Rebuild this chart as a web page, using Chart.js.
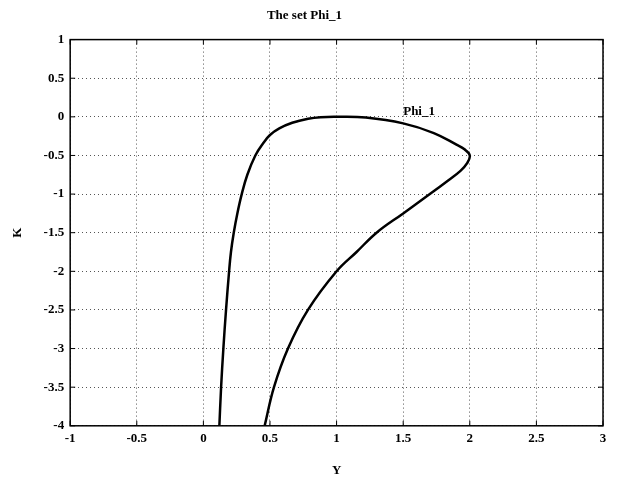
<!DOCTYPE html>
<html>
<head>
  <title>The set Phi_1</title>
  <script src="https://cdn.jsdelivr.net/npm/chart.js"></script>
  <style>
    body { margin: 0; background: #fff; }
    canvas { display: block; }
  </style>
</head>
<body>
  <canvas id="phiChart" width="627" height="485"></canvas>

  <script>
    // boundary of Phi_1 (Y, K)
    const yVals = [0.12, 0.133, 0.15, 0.17, 0.193, 0.207, 0.228, 0.255, 0.288, 0.33, 0.39, 0.45, 0.5, 0.57, 0.667, 0.786, 0.88, 1.0,
                   1.22, 1.5, 1.73, 1.9, 1.96, 2.0, 1.98, 1.93, 1.84, 1.70, 1.5, 1.30, 1.15, 1.0, 0.785, 0.635, 0.53, 0.46];
    const kVals = [-4, -3.5, -3, -2.5, -2, -1.75, -1.5, -1.25, -1, -0.75, -0.5, -0.34, -0.235, -0.15, -0.077, -0.025, -0.005, 0,
                   -0.01, -0.085, -0.21, -0.36, -0.42, -0.5, -0.6, -0.7, -0.82, -1.0, -1.25, -1.5, -1.75, -2, -2.5, -3, -3.5, -4];
    const xTicks = [-1, -0.5, 0, 0.5, 1, 1.5, 2, 2.5, 3];
    const yTicks = [1, 0.5, 0, -0.5, -1, -1.5, -2, -2.5, -3, -3.5, -4];
    const curveLabel = { text: "Phi_1", y: 1.5, k: 0.03 };

    const points = yVals.map((v, i) => ({ x: v, y: kVals[i] }));
    const font = { family: "Liberation Serif", weight: "bold", size: 13 };

    // box around the plot plus inward tick marks, and the curve label
    const frame = {
      id: "frame",
      afterDraw(chart) {
        const c = chart.ctx, a = chart.chartArea;
        const sx = chart.scales.x, sy = chart.scales.y;
        c.save();
        c.strokeStyle = "#000";
        c.lineWidth = 1.5;
        c.strokeRect(a.left, a.top, a.right - a.left, a.bottom - a.top);
        c.lineWidth = 1;
        c.beginPath();
        xTicks.forEach(t => {
          const p = sx.getPixelForValue(t);
          c.moveTo(p, a.bottom); c.lineTo(p, a.bottom - 5);
          c.moveTo(p, a.top); c.lineTo(p, a.top + 5);
        });
        yTicks.forEach(t => {
          const p = sy.getPixelForValue(t);
          c.moveTo(a.left, p); c.lineTo(a.left + 5, p);
          c.moveTo(a.right, p); c.lineTo(a.right - 5, p);
        });
        c.stroke();
        c.fillStyle = "#000";
        c.font = "bold 13px 'Liberation Serif'";
        c.textBaseline = "alphabetic";
        c.fillText(curveLabel.text, sx.getPixelForValue(curveLabel.y), sy.getPixelForValue(curveLabel.k));
        c.restore();
      }
    };

    const ctx = document.getElementById("phiChart").getContext("2d");
    new Chart(ctx, {
      type: "scatter",
      data: {
        datasets: [{
          label: "Phi_1",
          data: points,
          showLine: true,
          borderColor: "#000",
          borderWidth: 2.5,
          pointRadius: 0,
          tension: 0.4,
          fill: false
        }]
      },
      options: {
        responsive: false,
        animation: false,
        layout: { padding: { left: 6, right: 24, top: 0, bottom: 3 } },
        plugins: {
          legend: { display: false },
          tooltip: { enabled: false },
          title: {
            display: true,
            text: "The set Phi_1",
            color: "#000",
            font: { family: "Liberation Serif", weight: "bold", size: 13 },
            padding: { top: 8, bottom: 16 }
          }
        },
        scales: {
          x: {
            type: "linear",
            min: -1, max: 3,
            afterBuildTicks: s => { s.ticks = xTicks.map(v => ({ value: v })); },
            ticks: { color: "#000", font: font, padding: 5, callback: v => String(v) },
            grid: { color: "#555", drawTicks: false },
            border: { display: false, dash: [1, 3] },
            title: { display: true, text: "Y", color: "#000", font: font, padding: { top: 11 } }
          },
          y: {
            type: "linear",
            min: -4, max: 1,
            afterBuildTicks: s => { s.ticks = yTicks.map(v => ({ value: v })); },
            ticks: { color: "#000", font: font, padding: 6, callback: v => String(v) },
            grid: { color: "#555", drawTicks: false },
            border: { display: false, dash: [1, 3] },
            title: { display: true, text: "K", color: "#000", font: font, padding: { bottom: 12 } }
          }
        }
      },
      plugins: [frame]
    });
  </script>
</body>
</html>
